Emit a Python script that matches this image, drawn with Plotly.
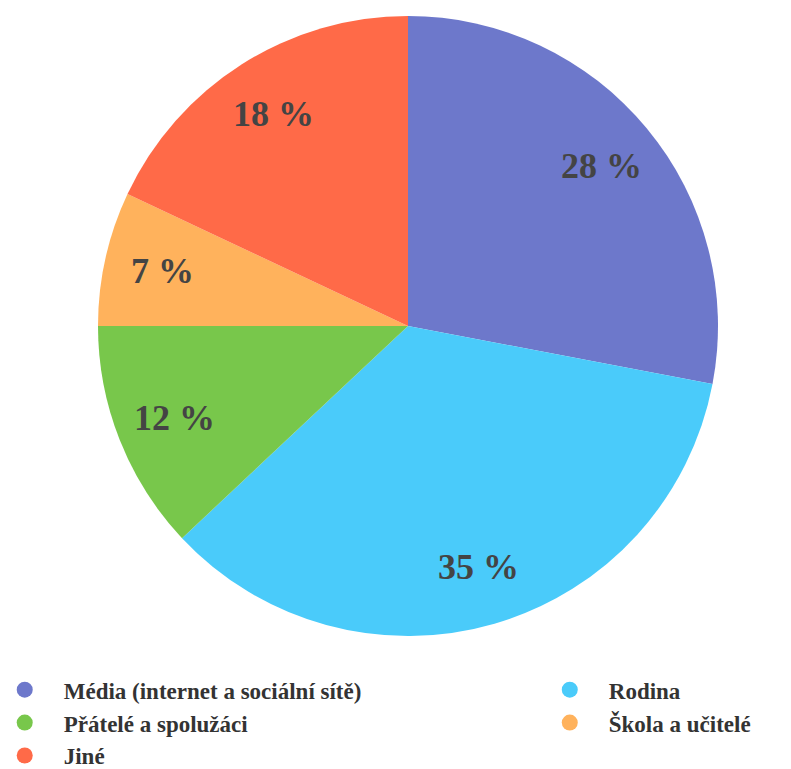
import math
import plotly.graph_objects as go

labels = ["Média (internet a sociální sítě)", "Rodina", "Přátelé a spolužáci", "Škola a učitelé", "Jiné"]
values = [28, 35, 12, 7, 18]
colors = ["#6D78CB", "#4ACBFA", "#78C74B", "#FFB25C", "#FF6A48"]
legend_col = ["legend", "legend2", "legend", "legend2", "legend"]

W, H = 791, 769
ML, MR, MT, MB = 9, 0, 8, 141
pw, ph = W - ML - MR, H - MT - MB
R = min(pw, ph) / 2

fig = go.Figure()
fig.add_trace(go.Pie(
    labels=labels, values=values, sort=False, direction="clockwise", rotation=0,
    marker=dict(colors=colors, line=dict(width=0)),
    textinfo="none", hoverinfo="label+percent", showlegend=False,
    domain=dict(x=[0, 1], y=[0, 1]),
))

# legend entries with circle markers
for lab, col, lg in zip(labels, colors, legend_col):
    fig.add_trace(go.Scatter(x=[None], y=[None], mode="markers", name=lab, legend=lg,
                             marker=dict(color=col, size=16, symbol="circle")))

# data labels at 0.81 of radius, placed at mid-angle of each slice
total = sum(values)
cum = 0
for v in values:
    mid = (cum + v / 2) / total * 2 * math.pi
    cum += v
    dx = 0.81 * R * math.sin(mid)
    dy = 0.81 * R * math.cos(mid)
    fig.add_annotation(x=0.5 + dx / pw, y=0.5 + dy / ph, xref="paper", yref="paper",
                       xanchor="center", yanchor="middle",
                       text=f"<b>{round(v / total * 100)} %</b>", showarrow=False,
                       font=dict(family="Liberation Serif", size=36, color="#444444"))

leg_font = dict(family="Liberation Serif", size=23, color="#333333", weight="bold")
fig.update_layout(
    width=W, height=H,
    margin=dict(l=ML, r=MR, t=MT, b=MB, autoexpand=False),
    paper_bgcolor="white", plot_bgcolor="white",
    xaxis=dict(visible=False), yaxis=dict(visible=False),
    font=dict(family="Liberation Serif", color="#333333"),
    showlegend=True,
    legend=dict(orientation="v", x=-0.040, xanchor="left", y=-0.052, yanchor="top",
                font=leg_font, itemsizing="trace", tracegroupgap=0, itemwidth=68,
                bgcolor="rgba(0,0,0,0)"),
    legend2=dict(orientation="v", x=0.657, xanchor="left", y=-0.052, yanchor="top",
                 font=leg_font, itemsizing="trace", tracegroupgap=0, itemwidth=68,
                 bgcolor="rgba(0,0,0,0)"),
)
fig.write_html("out.html")
